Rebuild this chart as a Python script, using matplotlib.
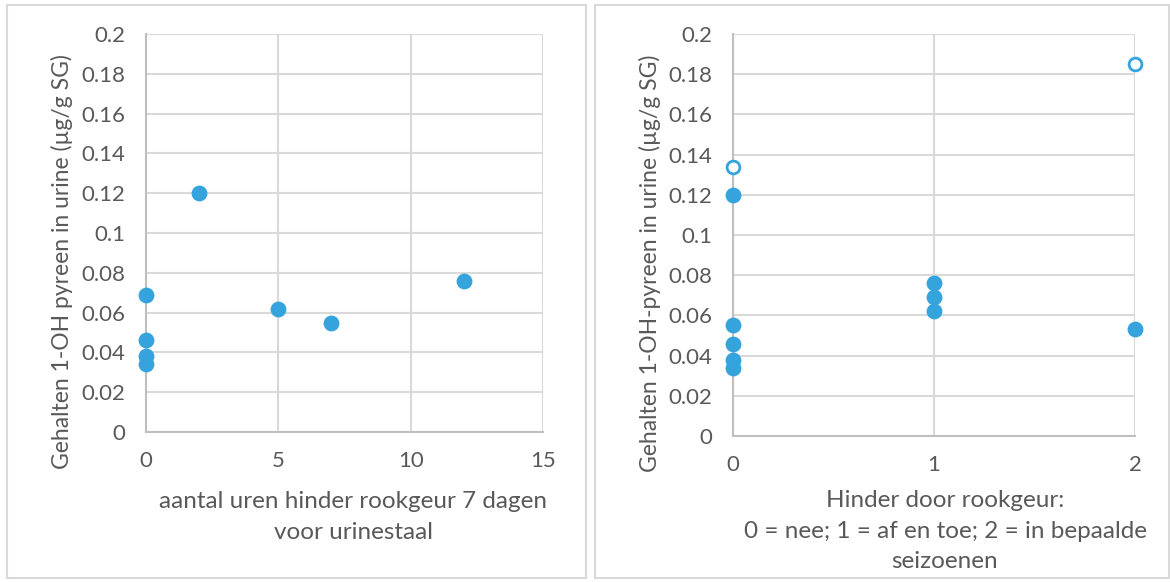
import matplotlib
matplotlib.use("Agg")
import matplotlib.pyplot as plt
from matplotlib.patches import Rectangle

# Data
left_x = [0, 0, 0, 0, 2, 5, 7, 12]
left_y = [0.069, 0.046, 0.038, 0.034, 0.12, 0.062, 0.055, 0.076]

right_x = [0, 0, 0, 0, 0, 1, 1, 1, 2]
right_y = [0.12, 0.055, 0.046, 0.038, 0.034, 0.076, 0.069, 0.062, 0.053]
right_open_x = [0, 2]
right_open_y = [0.134, 0.185]

yticks = [0, 0.02, 0.04, 0.06, 0.08, 0.1, 0.12, 0.14, 0.16, 0.18, 0.2]
ytick_labels = ["0", "0.02", "0.04", "0.06", "0.08", "0.1", "0.12", "0.14", "0.16", "0.18", "0.2"]
left_xticks = [0, 5, 10, 15]
right_xticks = [0, 1, 2]

ylabel_left = "Gehalten 1-OH pyreen in urine (µg/g SG)"
ylabel_right = "Gehalten 1-OH-pyreen in urine (µg/g SG)"
xlabel_left = "aantal uren hinder rookgeur 7 dagen\nvoor urinestaal"
xlabel_right = "Hinder door rookgeur:\n0 = nee; 1 = af en toe; 2 = in bepaalde\nseizoenen"

plt.rcParams['font.family'] = ['Lato', 'DejaVu Sans']
TXT = '#595959'
GRID = '#D9D9D9'
AXIS = '#BFBFBF'
BLUE = '#35A4DD'
FS_TICK = 16
FS_YL = 16.5
FS_XL = 17.5

W, H = 1170, 582
fig = plt.figure(figsize=(W / 100, H / 100), dpi=100)

def fx(px):
    return px / W

def fy(py):
    return 1 - py / H

# panel borders
for (x0, x1) in [(7, 586), (595, 1169)]:
    fig.patches.append(Rectangle((fx(x0), fy(578)), fx(x1 - x0), (578 - 5) / H,
                                 transform=fig.transFigure, fill=False,
                                 edgecolor='#D9D9D9', linewidth=1.5))

def style(ax, xt, xlim):
    ax.set_ylim(0, 0.2)
    ax.set_xlim(*xlim)
    ax.set_yticks(yticks)
    ax.set_yticklabels(ytick_labels)
    ax.set_xticks(xt)
    ax.grid(True, color=GRID, linewidth=1.5, zorder=0)
    ax.set_axisbelow(True)
    for s in ['top', 'right']:
        ax.spines[s].set_visible(False)
    for s in ['left', 'bottom']:
        ax.spines[s].set_color(AXIS)
        ax.spines[s].set_linewidth(1.5)
    ax.tick_params(axis='both', length=0, labelsize=FS_TICK, labelcolor=TXT)
    ax.tick_params(axis='y', pad=15)
    ax.tick_params(axis='x', pad=14)

# Left axes
ax1 = fig.add_axes([fx(146), fy(432), fx(543 - 146), (432 - 34) / H])
style(ax1, left_xticks, (0, 15))
ax1.scatter(left_x, left_y, s=130, color=BLUE, zorder=3, clip_on=False, linewidths=0)

# Right axes
ax2 = fig.add_axes([fx(733), fy(436), fx(1135 - 733), (436 - 34) / H])
style(ax2, right_xticks, (0, 2))
ax2.scatter(right_x, right_y, s=130, color=BLUE, zorder=3, clip_on=False, linewidths=0)
ax2.scatter(right_open_x, right_open_y, s=85, facecolor='white', edgecolor=BLUE,
            linewidths=2, zorder=3, clip_on=False)

# Labels
fig.text(fx(62), fy(262), ylabel_left, rotation=90, ha='center', va='center',
         fontsize=FS_YL, color=TXT)
fig.text(fx(650), fy(263), ylabel_right, rotation=90, ha='center', va='center',
         fontsize=FS_YL, color=TXT)
fig.text(fx(353), fy(517), xlabel_left, ha='center', va='center',
         fontsize=FS_XL, color=TXT, linespacing=1.55)
fig.text(fx(945), fy(531), xlabel_right, ha='center', va='center',
         fontsize=FS_XL, color=TXT, linespacing=1.55)

fig.savefig('out.png', dpi=100)
